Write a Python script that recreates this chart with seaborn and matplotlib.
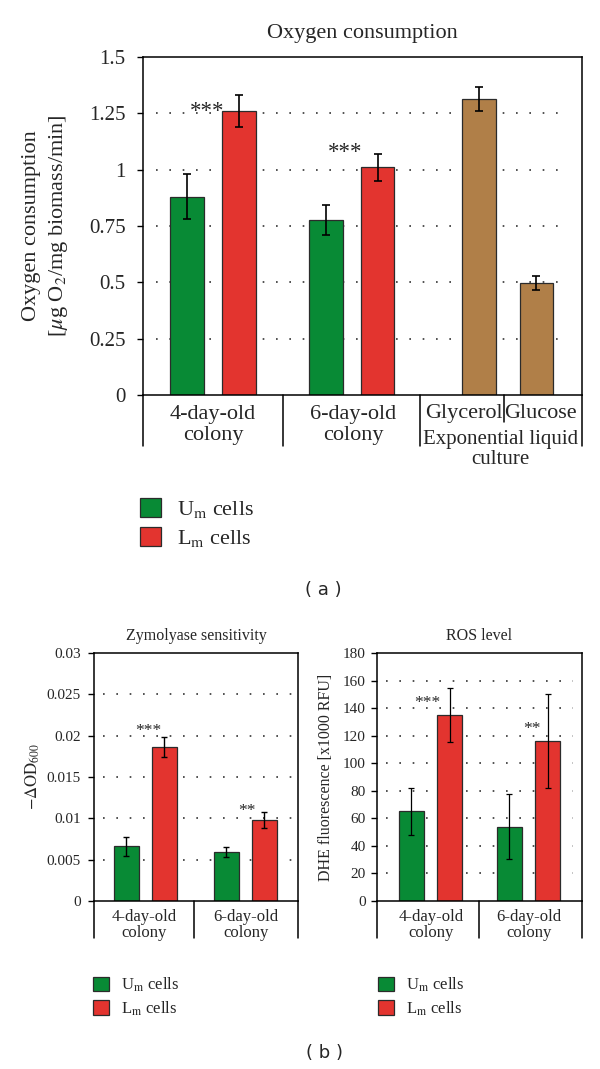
"""
Oxygen consumption, zymolyase sensitivity and ROS level of
upper (Um) and lower (Lm) colony cells - three bar panels.
"""

import numpy as np
import pandas as pd
import matplotlib
matplotlib.use("Agg")
import matplotlib.pyplot as plt
import seaborn as sns
from matplotlib import transforms
from matplotlib.patches import Patch

# ---- data ----
COLONY_GROUPS = ["4-day-old\ncolony", "6-day-old\ncolony"]
CELL_TYPES = ["Um cells", "Lm cells"]
LEGEND_LABELS = [r"U$_\mathrm{m}$ cells", r"L$_\mathrm{m}$ cells"]

O2_UM = [0.88, 0.775]
O2_UM_ERR = [0.10, 0.066]
O2_LM = [1.26, 1.01]
O2_LM_ERR = [0.072, 0.06]
O2_LIQUID = ["Glycerol", "Glucose"]
O2_LIQUID_TITLE = "Exponential liquid\nculture"
O2_LIQUID_VALS = [1.315, 0.497]
O2_LIQUID_ERR = [0.053, 0.032]
O2_STARS = ["***", "***"]
O2_STAR_Y = [1.258, 1.076]
O2_TICKS = [0, 0.25, 0.5, 0.75, 1, 1.25, 1.5]

ZYM_UM = [0.0066, 0.0059]
ZYM_UM_ERR = [0.0012, 0.0006]
ZYM_LM = [0.0186, 0.0098]
ZYM_LM_ERR = [0.0012, 0.001]
ZYM_STARS = ["***", "**"]
ZYM_STAR_Y = [0.0206, 0.0109]
ZYM_TICKS = [0, 0.005, 0.01, 0.015, 0.02, 0.025, 0.03]

ROS_UM = [65, 54]
ROS_UM_ERR = [17, 23.5]
ROS_LM = [135, 116]
ROS_LM_ERR = [19.5, 34]
ROS_STARS = ["***", "**"]
ROS_STAR_Y = [144, 125]
ROS_TICKS = [0, 20, 40, 60, 80, 100, 120, 140, 160, 180]

# ---- look ----
W, H = 600, 1069
GREEN = "#088a35"
RED = "#e3342f"
BROWN = "#b07f48"
EDGE = "#2b2b2b"
PALETTE = {"Um cells": GREEN, "Lm cells": RED, "liquid": BROWN}

sns.set_theme(style="white")
plt.rcParams["font.family"] = ["Liberation Serif", "DejaVu Serif"]
plt.rcParams["mathtext.fontset"] = "stix"


def px_axes(fig, left, top, right, bottom):
    return fig.add_axes([left / W, 1 - bottom / H, (right - left) / W, (bottom - top) / H])


def draw_bars(ax, df, errs, bar_w, capsize, elw):
    native = np.min(np.diff(np.sort(df["pos"].unique())))
    sns.barplot(data=df, x="pos", y="value", hue="cells", palette=PALETTE,
                native_scale=True, dodge=False, orient="x", errorbar=None,
                width=bar_w / native, saturation=1, edgecolor=EDGE,
                linewidth=0.9, legend=False, ax=ax, zorder=2)
    ax.errorbar(df["pos"], df["value"], yerr=errs, fmt="none", ecolor="black",
                elinewidth=elw, capsize=capsize, capthick=elw, zorder=3)


def style_axes(ax, ticks, xlim, tick_fs, pad, grid_span):
    ax.set_xlim(*xlim)
    ax.set_ylim(ticks[0], ticks[-1])
    ax.set_yticks(ticks)
    ax.yaxis.set_major_formatter(plt.FuncFormatter(lambda v, _: f"{v:g}"))
    ax.set_xticks([])
    ax.set_xlabel("")
    ax.set_ylabel("")
    ax.tick_params(axis="y", direction="out", length=4.5, width=1.0,
                   labelsize=tick_fs, pad=pad, left=True, color="black")
    for sp in ax.spines.values():
        sp.set_visible(True)
        sp.set_color("black")
        sp.set_linewidth(1.1)
    for y in ticks[1:-1]:
        ax.axhline(y, xmin=grid_span[0], xmax=grid_span[1], color="#333333",
                   lw=1.2, ls=(0, (1, 7)), zorder=0)


def separators(ax, seps, depth):
    blend = transforms.blended_transform_factory(ax.transData, ax.transAxes)
    for x in seps:
        ax.plot([x, x], [0, -depth], transform=blend, clip_on=False,
                color="black", lw=1.1)


def category_labels(ax, labels, fs, drop=6, spacing=1.0):
    blend = transforms.blended_transform_factory(ax.transData, ax.transAxes)
    for x, lab in labels:
        ax.annotate(lab, xy=(x, 0), xycoords=blend, xytext=(0, -drop),
                    textcoords="offset points", ha="center", va="top",
                    fontsize=fs, linespacing=spacing, annotation_clip=False)


def colony_frame(um, lm, centers, dodge):
    pos = [c - dodge for c in centers] + [c + dodge for c in centers]
    return pd.DataFrame({
        "pos": pos,
        "value": list(um) + list(lm),
        "cells": [CELL_TYPES[0]] * len(um) + [CELL_TYPES[1]] * len(lm),
    })


def add_legend(fig, x, y, fs, size, spacing, pad):
    handles = [Patch(facecolor=GREEN, edgecolor=EDGE, linewidth=0.9),
               Patch(facecolor=RED, edgecolor=EDGE, linewidth=0.9)]
    fig.legend(handles, LEGEND_LABELS, loc="upper left",
               bbox_to_anchor=(x / W, 1 - y / H), frameon=False, fontsize=fs,
               handlelength=size, handleheight=size, labelspacing=spacing,
               handletextpad=pad, borderpad=0, borderaxespad=0)


fig = plt.figure(figsize=(W / 100, H / 100), dpi=100)

# ---- (a) oxygen consumption ----
ax = px_axes(fig, 143, 57, 582, 395)
o2_xmax = 439 / 140
o2_centers = [0.5, 1.49]
o2_dodge = 0.185
liquid_pos = [2.4, 2.81]
o2_df = colony_frame(O2_UM, O2_LM, o2_centers, o2_dodge)
o2_df = pd.concat([o2_df, pd.DataFrame({"pos": liquid_pos, "value": O2_LIQUID_VALS,
                                        "cells": ["liquid"] * 2})], ignore_index=True)
o2_err = list(O2_UM_ERR) + list(O2_LM_ERR) + list(O2_LIQUID_ERR)
draw_bars(ax, o2_df, o2_err, 0.24, 3.2, 1.2)
style_axes(ax, O2_TICKS, (0, o2_xmax), 15, 8, (0.03, 0.97))
ax.set_title("Oxygen consumption", fontsize=16, pad=14)
for c, s, y in zip(o2_centers, O2_STARS, O2_STAR_Y):
    ax.text(c + o2_dodge - 0.23, y, s, ha="center", va="center", fontsize=16.5)
separators(ax, [0, 1, 1.98, o2_xmax], 51 / 338)
separators(ax, [2.58], 27 / 338)
category_labels(ax, list(zip([0.5, 1.5], COLONY_GROUPS)), 16, drop=7.5, spacing=1.1)
category_labels(ax, list(zip([2.293, 2.84], O2_LIQUID)), 16, drop=6.5)
category_labels(ax, [(2.555, O2_LIQUID_TITLE)], 15, drop=25, spacing=1.1)
fig.text(46 / W, 1 - 226 / H,
         "Oxygen consumption\n[$\\mu$g O$_2$/mg biomass/min]",
         rotation=90, ha="center", va="center", multialignment="center",
         fontsize=16, linespacing=1.35)
add_legend(fig, 140, 498, 16, 0.95, 0.3, 0.7)
fig.text(323 / W, 1 - 590 / H, "( a )", family="DejaVu Sans", fontsize=13,
         ha="center", va="center")

# ---- (b) zymolyase sensitivity ----
zym_centers = [0.51, 1.51]
ax = px_axes(fig, 94, 653, 298, 901)
zym_df = colony_frame(ZYM_UM, ZYM_LM, zym_centers, 0.19)
draw_bars(ax, zym_df, list(ZYM_UM_ERR) + list(ZYM_LM_ERR), 0.25, 2.4, 1.0)
style_axes(ax, ZYM_TICKS, (0, 2.04), 11, 5, (0.045, 0.97))
ax.set_title("Zymolyase sensitivity", fontsize=11.5, pad=9)
for c, off, s, y in zip(zym_centers, [-0.155, -0.175], ZYM_STARS, ZYM_STAR_Y):
    ax.text(c + 0.19 + off, y, s, ha="center", va="center", fontsize=12.5)
separators(ax, [0, 1, 2.04], 37 / 248)
category_labels(ax, list(zip([0.5, 1.52], COLONY_GROUPS)), 12, drop=5.5, spacing=1.05)
fig.text(33 / W, 1 - 777 / H, r"$-\Delta\mathrm{OD}_{600}$", rotation=90,
         ha="center", va="center", fontsize=12)
add_legend(fig, 93, 976, 12, 0.95, 0.3, 0.75)

# ---- (b) ROS level ----
ros_centers = [0.525, 1.485]
ax = px_axes(fig, 377, 653, 582, 901)
ros_df = colony_frame(ROS_UM, ROS_LM, ros_centers, 0.187)
draw_bars(ax, ros_df, list(ROS_UM_ERR) + list(ROS_LM_ERR), 0.245, 2.2, 0.9)
style_axes(ax, ROS_TICKS, (0, 2.01), 11, 3.5, (0.045, 0.955))
ax.set_title("ROS level", fontsize=11.5, pad=9)
for c, off, s, y in zip(ros_centers, [-0.22, -0.15], ROS_STARS, ROS_STAR_Y):
    ax.text(c + 0.187 + off, y, s, ha="center", va="center", fontsize=12.5)
separators(ax, [0, 1.0, 2.01], 37 / 248)
category_labels(ax, list(zip([0.53, 1.49], COLONY_GROUPS)), 12, drop=5.5, spacing=1.05)
fig.text(326 / W, 1 - 777 / H, "DHE fluorescence [x1000 RFU]", rotation=90,
         ha="center", va="center", fontsize=11.5)
add_legend(fig, 378, 976, 12, 0.95, 0.3, 0.75)
fig.text(324 / W, 1 - 1053 / H, "( b )", family="DejaVu Sans", fontsize=13,
         ha="center", va="center")

fig.savefig("out.png", dpi=100, facecolor="white")
